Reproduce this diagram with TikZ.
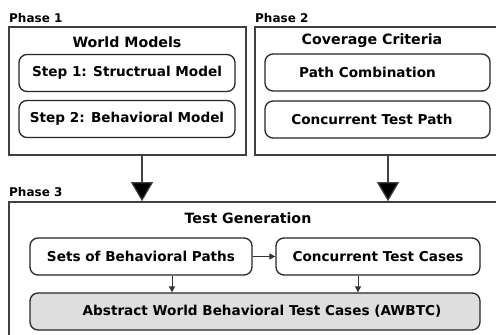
\documentclass[tikz,border=0pt]{standalone}
\usepackage{fontspec}
\setmainfont{DejaVu Sans}
\usetikzlibrary{arrows.meta}
\begin{document}
\begin{tikzpicture}[x=1pt,y=-1pt,
  phasebox/.style={draw=black!75,line width=1.6pt,inner sep=0pt},
  stepbox/.style={draw=black!85,line width=1.3pt,rounded corners=8pt,fill=white,inner sep=0pt,minimum height=37pt,font=\bfseries\fontsize{13.6}{15}\selectfont},
  title/.style={font=\bfseries\fontsize{14.2}{16}\selectfont,inner sep=0pt},
  phaselabel/.style={font=\bfseries\fontsize{12}{13}\selectfont,inner sep=0pt,anchor=west},
  bigarrow/.style={draw=black!75,line width=1.2pt,-{Triangle[width=22pt,length=19pt,fill=black]}},
  smallarrow/.style={draw=black!80,line width=1pt,-{Triangle[width=6pt,length=6pt]}}
]
\useasboundingbox (0,0) rectangle (496,335);
\clip (0,0) rectangle (496,335);
% phase boxes
\node[phasebox,minimum width=237pt,minimum height=128pt] (p1) at (127.5,91) {};
\node[phasebox,minimum width=265pt,minimum height=128pt] (p2) at (387.5,91) {};
\node[phasebox,minimum width=511pt,minimum height=158pt] (p3) at (264.5,281) {};
% phase labels
\node[phaselabel] (l1) at (9,18) {Phase 1};
\node[phaselabel] (l2) at (255,18) {Phase 2};
\node[phaselabel] (l3) at (9,192) {Phase 3};
% titles
\node[title] (t1) at (127,42) {World Models};
\node[title] (t2) at (372,41) {Coverage Criteria};
\node[title] (t3) at (248,218) {Test Generation};
% steps
\node[stepbox,minimum width=216pt] (s1) at (127,73) {Step 1: Structrual Model};
\node[stepbox,minimum width=216pt] (s2) at (127,119) {Step 2: Behavioral Model};
\node[stepbox,minimum width=225pt] (c1) at (377.5,72.5) {\hspace*{-20pt}Path Combination};
\node[stepbox,minimum width=225pt] (c2) at (377.5,119.5) {\hspace*{-11pt}Concurrent Test Path};
\node[stepbox,minimum width=222pt] (g1) at (141,256.5) {Sets of Behavioral Paths};
\node[stepbox,minimum width=204pt] (g2) at (378,256.5) {Concurrent Test Cases};
\node[stepbox,minimum width=450pt,fill=black!13] (g3) at (255,311.5) {\hspace*{14pt}Abstract World Behavioral Test Cases (AWBTC)};
% arrows
\coordinate (a1) at (142,0);
\coordinate (a2) at (388,0);
\coordinate (a3) at (172,0);
\coordinate (a4) at (358,0);
\draw[bigarrow] (a1 |- p1.south) -- (a1 |- p3.north);
\draw[bigarrow] (a2 |- p2.south) -- (a2 |- p3.north);
\draw[smallarrow] (g1.east) -- (g2.west);
\draw[smallarrow] (a3 |- g1.south) -- (a3 |- g3.north);
\draw[smallarrow] (a4 |- g2.south) -- (a4 |- g3.north);
\end{tikzpicture}
\end{document}
